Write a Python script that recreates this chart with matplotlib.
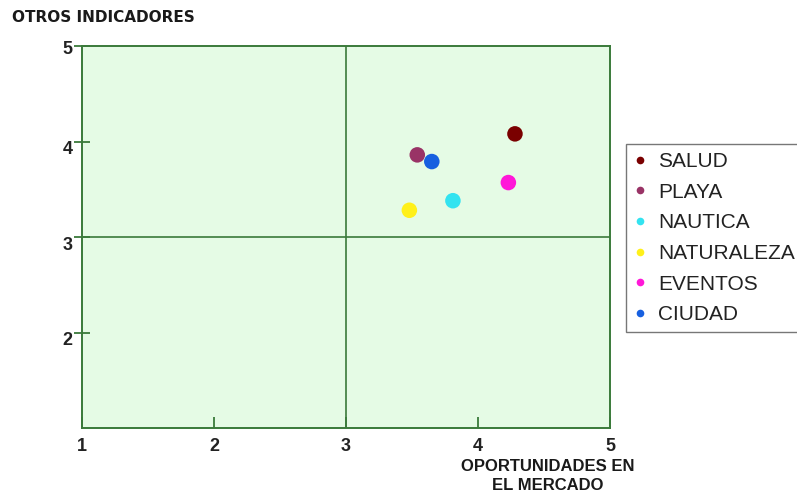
import matplotlib
matplotlib.use("Agg")
import matplotlib.pyplot as plt
from matplotlib.lines import Line2D
from matplotlib.transforms import ScaledTranslation

# Segment positions: market opportunity (x) vs other indicators (y)
segments = ["SALUD", "PLAYA", "NAUTICA", "NATURALEZA", "EVENTOS", "CIUDAD"]
oportunidades = [4.28, 3.54, 3.81, 3.48, 4.23, 3.65]
indicadores = [4.08, 3.86, 3.38, 3.28, 3.57, 3.79]
colors = ["#7a0000", "#993366", "#33e3f0", "#fff01a", "#ff18d8", "#1760e0"]

x_ticks = [1, 2, 3, 4, 5]
y_ticks = [2, 3, 4, 5]
x_mid, y_mid = 3, 3

green = "#3a7a3a"
bg = "#e5fbe5"

fig = plt.figure(figsize=(7.97, 4.93), dpi=100)
ax = fig.add_axes([82 / 797, 1 - 428 / 493, 528 / 797, 382 / 493])
ax.set_facecolor(bg)
ax.set_xlim(1, 5)
ax.set_ylim(1, 5)

for sp in ax.spines.values():
    sp.set_color(green)
    sp.set_linewidth(1.4)

# Quadrant dividers
ax.axvline(x_mid, color=green, lw=1.2)
ax.axhline(y_mid, color=green, lw=1.2)

for x, y, c in zip(oportunidades, indicadores, colors):
    ax.scatter(x, y, s=125, color=c, edgecolors="none", zorder=3)

ax.set_xticks(x_ticks)
ax.set_yticks(y_ticks)
ax.set_xticklabels([str(t) for t in x_ticks])
ax.set_yticklabels([str(t) for t in y_ticks])
ax.tick_params(axis="x", direction="in", length=8, width=1.3, color=green,
               pad=7, labelsize=13)
ax.tick_params(axis="y", direction="inout", length=12, width=1.3, color=green,
               pad=1, labelsize=13)
for lbl in ax.get_xticklabels() + ax.get_yticklabels():
    lbl.set_fontfamily("Liberation Sans")
    lbl.set_fontweight("bold")
    lbl.set_color("#222222")
# y labels sit slightly below their tick marks (the top one less so)
for t, lbl in zip(y_ticks, ax.get_yticklabels()):
    dy = 1 if t == y_ticks[-1] else 6
    lbl.set_transform(lbl.get_transform()
                      + ScaledTranslation(0, -dy / 100, fig.dpi_scale_trans))

fig.text(12 / 797, 1 - 18 / 493, "OTROS INDICADORES", fontsize=11,
         fontweight="bold", family="DejaVu Sans", color="#1a1a1a",
         ha="left", va="center")
fig.text(548 / 797, 1 - 476 / 493, "OPORTUNIDADES EN\nEL MERCADO",
         fontsize=12, fontweight="bold", family="Liberation Sans",
         color="#1a1a1a", ha="center", va="center", linespacing=1.3)

handles = [Line2D([], [], marker="o", linestyle="none", markersize=5.5,
                  markerfacecolor=c, markeredgecolor="none") for c in colors]
leg = fig.legend(handles, segments, loc="upper left",
                 bbox_to_anchor=(626 / 797, 1 - 144 / 493),
                 prop={"family": "Liberation Sans", "size": 15},
                 frameon=True, fancybox=False, handlelength=0.6,
                 handletextpad=0.55, labelspacing=0.56, borderpad=0.38,
                 borderaxespad=0)
leg.get_frame().set_edgecolor("#555555")
leg.get_frame().set_linewidth(1.0)
for t in leg.get_texts():
    t.set_color("#222222")

fig.savefig("out.png", dpi=100)
